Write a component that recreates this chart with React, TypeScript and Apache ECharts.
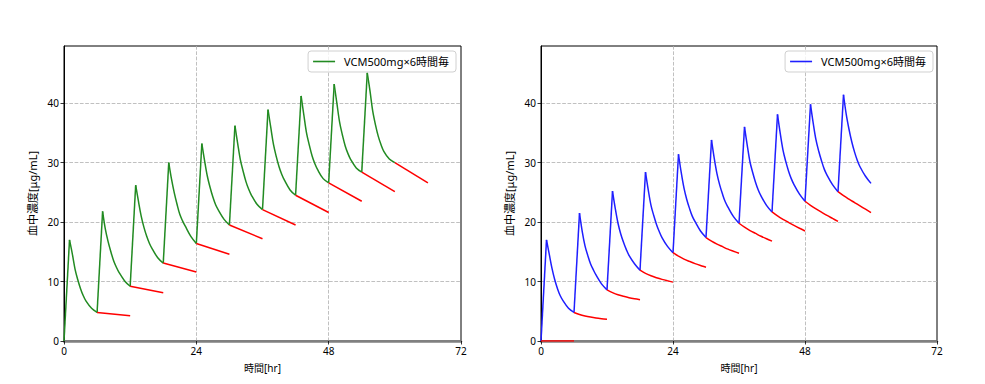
import React, { useEffect, useRef } from "react";
import * as echarts from "echarts";

// Time offsets (hours) inside one 6-hour dosing cycle
const doseOffsets = [0, 1, 1.5, 2, 2.5, 3, 3.5, 4, 5, 6];
const dosingInterval = 6;

// Left panel: concentration per dosing cycle at doseOffsets
const leftCycles = [
  [0, 17.0, 14.7, 12.1, 10.3, 8.8, 7.6, 6.7, 5.5, 4.8],
  [4.8, 21.8, 18.8, 16.7, 15.0, 13.5, 12.4, 11.5, 10.1, 9.2],
  [9.2, 26.2, 23.5, 21.0, 19.1, 17.6, 16.4, 15.5, 14.0, 13.1],
  [13.1, 30.0, 27.2, 24.9, 23.0, 21.3, 20.2, 19.3, 17.6, 16.4],
  [16.4, 33.2, 30.3, 27.7, 25.8, 24.2, 22.9, 22.0, 20.5, 19.5],
  [19.5, 36.2, 33.2, 30.4, 28.5, 26.8, 25.5, 24.5, 23.0, 22.1],
  [22.1, 38.9, 35.9, 33.0, 31.0, 29.3, 28.0, 27.0, 25.4, 24.5],
  [24.5, 41.2, 38.0, 34.9, 32.9, 31.1, 29.8, 28.8, 27.3, 26.6],
  [26.6, 43.2, 39.9, 36.7, 34.6, 32.8, 31.5, 30.5, 29.1, 28.4],
  [28.4, 45.1, 42.0, 38.6, 36.3, 34.4, 33.0, 31.9, 30.6, 30.0],
];

// Left panel red straight lines: start time, [start value, end value]
const leftRedStarts = [6, 12, 18, 24, 30, 36, 42, 48, 54, 60];
const leftRedValues = [
  [4.8, 4.24],
  [9.2, 8.1],
  [13.1, 11.6],
  [16.4, 14.6],
  [19.5, 17.2],
  [22.1, 19.5],
  [24.5, 21.6],
  [26.6, 23.5],
  [28.4, 25.1],
  [30.0, 26.6],
];

// Right panel: concentration per dosing cycle at doseOffsets
const rightCycles = [
  [0, 17.0, 14.6, 12.2, 10.3, 8.8, 7.6, 6.8, 5.5, 4.8],
  [4.8, 21.5, 18.4, 16.0, 14.4, 13.0, 12.0, 11.1, 9.6, 8.6],
  [8.6, 25.2, 22.3, 19.8, 18.0, 16.6, 15.4, 14.4, 13.0, 11.9],
  [11.9, 28.4, 25.4, 22.8, 21.1, 19.6, 18.4, 17.4, 15.9, 14.85],
  [14.85, 31.4, 28.3, 25.7, 23.8, 22.3, 21.0, 20.1, 18.5, 17.4],
  [17.4, 33.8, 30.7, 28.1, 26.2, 24.7, 23.4, 22.5, 20.9, 19.8],
  [19.8, 36.0, 32.9, 30.1, 28.3, 26.7, 25.4, 24.4, 22.8, 21.7],
  [21.7, 38.1, 34.9, 32.1, 30.2, 28.6, 27.3, 26.3, 24.7, 23.5],
  [23.5, 39.8, 36.6, 33.8, 31.9, 30.3, 28.9, 27.9, 26.3, 25.1],
  [25.1, 41.4, 38.1, 35.6, 33.5, 31.8, 30.4, 29.3, 27.7, 26.5],
];

// Right panel red decay curves
const rightRedOffsets = [0, 1, 2, 3, 4, 5, 6];
const rightRedStarts = [0, 6, 12, 18, 24, 30, 36, 42, 48, 54];
const rightRedValues = [
  [0, 0, 0, 0, 0, 0, 0],
  [4.8, 4.46, 4.21, 4.02, 3.87, 3.76, 3.67],
  [8.6, 8.14, 7.77, 7.51, 7.28, 7.1, 6.95],
  [11.9, 11.38, 10.96, 10.64, 10.36, 10.12, 9.9],
  [14.85, 14.26, 13.77, 13.38, 13.01, 12.69, 12.4],
  [17.4, 16.79, 16.29, 15.86, 15.44, 15.09, 14.75],
  [19.8, 19.14, 18.57, 18.09, 17.61, 17.19, 16.8],
  [21.7, 21.03, 20.45, 19.94, 19.43, 18.95, 18.5],
  [23.5, 22.82, 22.21, 21.66, 21.12, 20.61, 20.1],
  [25.1, 24.43, 23.84, 23.28, 22.72, 22.16, 21.6],
];

const legendName = "VCM500mg×6時間毎";
const xTicks = { min: 0, max: 72, interval: 24 };
const yTicks = { min: 0, max: 49.6, interval: 10 };
const xLabel = "時間[hr]";
const yLabel = "血中濃度[μg/mL]";

const FONT = "'Noto Sans', 'Noto Sans CJK JP', sans-serif";

const gridLine = { color: "#b0b0b0", width: 0.8, type: [3.7, 1.6] as number[] };

function xAxisFor(gridIndex: number) {
  return {
    gridIndex,
    type: "value",
    min: xTicks.min,
    max: xTicks.max,
    interval: xTicks.interval,
    axisLine: { show: true, onZero: false, lineStyle: { color: "#808080", width: 2.5 } },
    axisTick: { show: true, length: 3.5, lineStyle: { color: "#000", width: 0.8 } },
    axisLabel: { color: "#000", fontSize: 10, margin: 5, fontFamily: FONT },
    splitLine: { show: true, showMinLine: false, showMaxLine: false, lineStyle: gridLine },
    name: xLabel,
    nameLocation: "middle",
    nameGap: 22,
    nameTextStyle: { color: "#000", fontSize: 10, fontFamily: FONT },
  };
}

function yAxisFor(gridIndex: number) {
  return {
    gridIndex,
    type: "value",
    min: yTicks.min,
    max: yTicks.max,
    interval: yTicks.interval,
    axisLine: { show: true, lineStyle: { color: "#000", width: 1 } },
    axisTick: { show: true, length: 3.5, lineStyle: { color: "#000", width: 0.8 } },
    axisLabel: { color: "#000", fontSize: 10, margin: 5, showMaxLabel: false, fontFamily: FONT },
    splitLine: { show: true, showMinLine: false, showMaxLine: false, lineStyle: gridLine },
    name: yLabel,
    nameLocation: "middle",
    nameRotate: 90,
    nameGap: 26,
    nameTextStyle: { color: "#000", fontSize: 11, fontFamily: FONT },
  };
}

function legendFor(right: number) {
  return {
    right,
    top: 51,
    selectedMode: false,
    icon: "rect",
    itemWidth: 22,
    itemHeight: 1.6,
    itemGap: 8,
    formatter: (n: string) => n.trim(),
    textStyle: { color: "#000", fontSize: 11, fontFamily: FONT, padding: [0, 0, 0, 4] },
    backgroundColor: "rgba(255,255,255,0.8)",
    borderColor: "#d0d0d0",
    borderWidth: 1,
    borderRadius: 3,
    padding: [5, 7, 5, 5],
  };
}

function cycleSeries(
  cycles: number[][],
  name: string,
  color: string,
  axis: number
) {
  const out: any[] = [];
  cycles.forEach((vals, n) => {
    const t0 = n * dosingInterval;
    // infusion (rise) part: straight
    out.push({
      name,
      type: "line",
      xAxisIndex: axis,
      yAxisIndex: axis,
      data: [
        [t0 + doseOffsets[0], vals[0]],
        [t0 + doseOffsets[1], vals[1]],
      ],
      symbol: "none",
      lineStyle: { color, width: 1.5 },
      itemStyle: { color },
      z: 3,
    });
    // elimination part: smooth curve
    out.push({
      name,
      type: "line",
      xAxisIndex: axis,
      yAxisIndex: axis,
      data: vals.slice(1).map((v, i) => [t0 + doseOffsets[i + 1], v]),
      symbol: "none",
      smooth: 0.35,
      lineStyle: { color, width: 1.5 },
      itemStyle: { color },
      z: 3,
    });
  });
  return out;
}

export default function App() {
  const ref = useRef<HTMLDivElement>(null);

  useEffect(() => {
    if (!ref.current) return;
    const chart = echarts.init(ref.current, undefined, { renderer: "svg" });

    const leftName = legendName;
    const rightName = legendName + " ";
    const green = "#228B22";
    const blue = "#1f1fff";

    const series: any[] = [
      ...cycleSeries(leftCycles, leftName, green, 0),
      ...cycleSeries(rightCycles, rightName, blue, 1),
    ];

    leftRedStarts.forEach((t0, i) => {
      series.push({
        name: "leftRed" + i,
        type: "line",
        xAxisIndex: 0,
        yAxisIndex: 0,
        data: [
          [t0, leftRedValues[i][0]],
          [t0 + dosingInterval, leftRedValues[i][1]],
        ],
        symbol: "none",
        lineStyle: { color: "#ff0000", width: 1.5 },
        z: 4,
      });
    });

    rightRedStarts.forEach((t0, i) => {
      series.push({
        name: "rightRed" + i,
        type: "line",
        xAxisIndex: 1,
        yAxisIndex: 1,
        data: rightRedOffsets.map((o, j) => [t0 + o, rightRedValues[i][j]]),
        symbol: "none",
        smooth: 0.3,
        lineStyle: { color: "#ff0000", width: 1.5 },
        z: 4,
      });
    });

    chart.setOption({
      animation: false,
      backgroundColor: "#fff",
      textStyle: { fontFamily: FONT },
      grid: [
        { left: 64, top: 46, width: 397, height: 295, show: true, borderColor: "#000", borderWidth: 1, backgroundColor: "transparent" },
        { left: 541, top: 46, width: 396, height: 295, show: true, borderColor: "#000", borderWidth: 1, backgroundColor: "transparent" },
      ],
      xAxis: [xAxisFor(0), xAxisFor(1)],
      yAxis: [yAxisFor(0), yAxisFor(1)],
      legend: [
        { ...legendFor(529), data: [leftName] },
        { ...legendFor(52), data: [rightName] },
      ],
      series,
    });

    return () => chart.dispose();
  }, []);

  return (
    <div
      ref={ref}
      style={{ position: "fixed", left: 0, top: 0, width: 985, height: 384 }}
    />
  );
}
